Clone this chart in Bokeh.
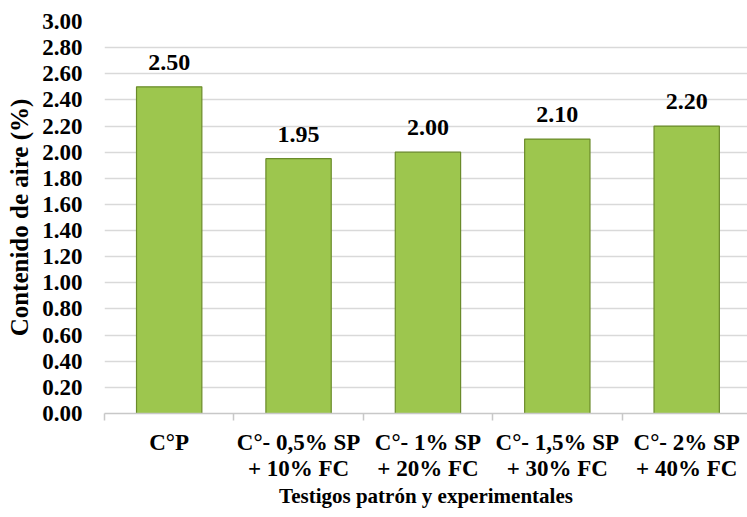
from bokeh.plotting import figure
from bokeh.models import ColumnDataSource, FixedTicker, NumeralTickFormatter, Range1d, LabelSet
from bokeh.embed import file_html
from bokeh.resources import INLINE

categories = ["C°P", "C°- 0,5% SP\n+ 10% FC", "C°- 1% SP\n+ 20% FC", "C°- 1,5% SP\n+ 30% FC", "C°- 2% SP\n+ 40% FC"]
values = [2.50, 1.95, 2.00, 2.10, 2.20]
value_labels = ["2.50", "1.95", "2.00", "2.10", "2.20"]
y_ticks = [0.0, 0.2, 0.4, 0.6, 0.8, 1.0, 1.2, 1.4, 1.6, 1.8, 2.0, 2.2, 2.4, 2.6, 2.8, 3.0]

positions = list(range(1, len(categories) + 1))
src = ColumnDataSource(dict(x=positions, top=values, lab=value_labels))

FONT = "Liberation Serif"

p = figure(width=747, height=517, output_backend="svg", toolbar_location=None,
           x_range=Range1d(0.5, 5.47), y_range=Range1d(0, 3.0),
           min_border_left=104, min_border_right=0, min_border_top=21, min_border_bottom=104)
p.outline_line_color = None

p.vbar(x="x", top="top", width=0.505, source=src, fill_color="#9DC64E",
       line_color="#6A8B2A", line_width=1.2)

labels = LabelSet(x="x", y="top", text="lab", source=src, text_align="center",
                  text_baseline="alphabetic", y_offset=17, text_font=FONT,
                  text_font_style="bold", text_font_size="24px", text_color="#000000")
p.add_layout(labels)

# y axis
p.yaxis.ticker = FixedTicker(ticks=y_ticks)
p.yaxis.formatter = NumeralTickFormatter(format="0.00")
p.yaxis.axis_line_color = None
p.yaxis.major_tick_line_color = None
p.yaxis.major_tick_out = 0
p.yaxis.minor_tick_line_color = None
p.yaxis.major_label_text_font = FONT
p.yaxis.major_label_text_font_style = "bold"
p.yaxis.major_label_text_font_size = "23px"
p.yaxis.major_label_text_color = "#000000"
p.yaxis.major_label_standoff = 22
p.yaxis.axis_label = "Contenido de aire (%)"
p.yaxis.axis_label_text_font = FONT
p.yaxis.axis_label_text_font_style = "bold"
p.yaxis.axis_label_text_font_size = "25px"
p.yaxis.axis_label_text_color = "#000000"
p.yaxis.axis_label_standoff = 6

# x axis
p.xaxis.ticker = FixedTicker(ticks=positions, minor_ticks=[i + 0.5 for i in range(0, len(categories) + 1)])
p.xaxis.major_label_overrides = {i + 1: c for i, c in enumerate(categories)}
p.xaxis.axis_line_color = "#C8C8C8"
p.xaxis.axis_line_width = 1.5
p.xaxis.major_tick_line_color = None
p.xaxis.major_tick_out = 0
p.xaxis.minor_tick_line_color = "#C8C8C8"
p.xaxis.minor_tick_line_width = 1.5
p.xaxis.minor_tick_out = 7
p.xaxis.minor_tick_in = 0
p.xaxis.major_label_text_font = FONT
p.xaxis.major_label_text_font_style = "bold"
p.xaxis.major_label_text_font_size = "23px"
p.xaxis.major_label_text_color = "#000000"
p.xaxis.major_label_text_line_height = 1.04
p.xaxis.major_label_standoff = 9
p.xaxis.axis_label = "Testigos patrón y experimentales"
p.xaxis.axis_label_text_font = FONT
p.xaxis.axis_label_text_font_style = "bold"
p.xaxis.axis_label_text_font_size = "21px"
p.xaxis.axis_label_text_color = "#000000"
p.xaxis.axis_label_standoff = 0

p.xgrid.grid_line_color = None
p.ygrid.ticker = FixedTicker(ticks=y_ticks)
p.ygrid.grid_line_color = "#D9D9D9"
p.ygrid.grid_line_width = 1.5

open("out.html", "w").write(file_html(p, INLINE))
